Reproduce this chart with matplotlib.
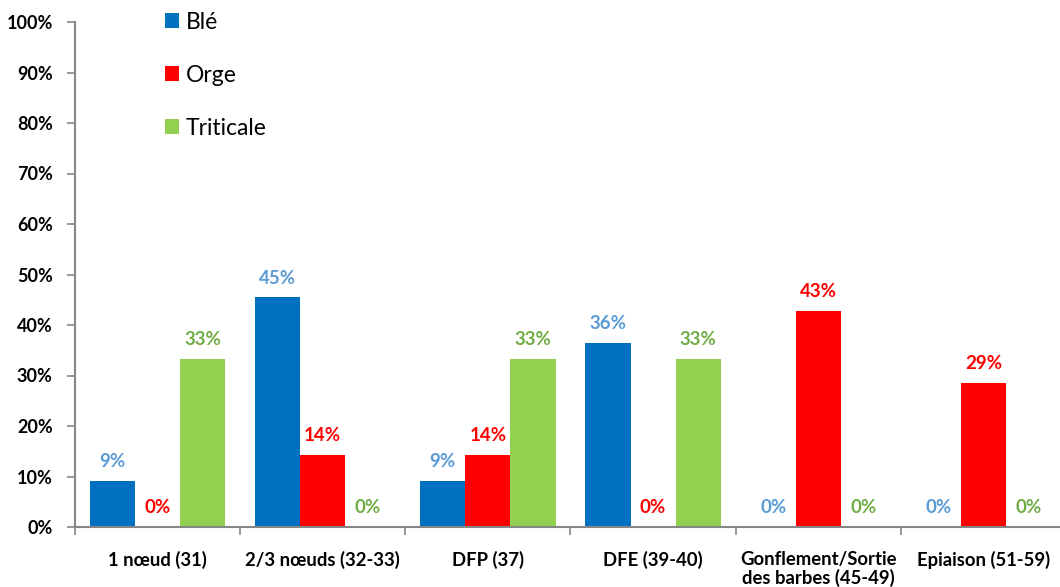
import numpy as np
import matplotlib
matplotlib.use("Agg")
import matplotlib.pyplot as plt
from matplotlib.ticker import MultipleLocator, FixedLocator, PercentFormatter

plt.rcParams['font.family'] = ['Lato', 'DejaVu Sans']

# stades (categories)
stades = ["1 nœud (31)", "2/3 nœuds (32-33)", "DFP (37)", "DFE (39-40)",
          "Gonflement/Sortie\ndes barbes (45-49)", "Epiaison (51-59)"]
# fractions
ble = [9.09, 45.45, 9.09, 36.36, 0, 0]
orge = [0, 14.29, 14.29, 0, 42.86, 28.57]
triticale = [33.33, 0, 33.33, 33.33, 0, 0]

series = [("Blé", ble, "#0070C0", "#5B9BD5"),
          ("Orge", orge, "#FF0000", "#FF0000"),
          ("Triticale", triticale, "#92D050", "#70AD47")]

fig = plt.figure(figsize=(10.6, 5.87), dpi=100)
ax = fig.add_axes([75/1060, 1 - 527/587, (1066 - 75)/1060, (527 - 22)/587])

x = np.arange(len(stades))
w = 0.273
for i, (name, vals, col, lcol) in enumerate(series):
    bars = ax.bar(x + (i - 1)*w, vals, w, color=col, label=name, zorder=2)
    for b, v in zip(bars, vals):
        ax.annotate(f"{v:.0f}%", (b.get_x() + b.get_width()/2, v),
                    xytext=(0, 14), textcoords="offset points",
                    ha="center", va="center", color=lcol,
                    fontsize=13.5, fontweight="bold")

ax.set_ylim(0, 100)
ax.set_xlim(-0.5, len(stades) - 0.5)
ax.yaxis.set_major_locator(MultipleLocator(10))
ax.yaxis.set_major_formatter(PercentFormatter(decimals=0))

ax.set_xticks(x)
ax.set_xticklabels(stades, fontsize=13.3, fontweight="bold", linespacing=1.1)
ax.xaxis.set_minor_locator(FixedLocator(np.arange(-0.5, len(stades), 1)))
ax.tick_params(axis="x", which="major", length=0, pad=17)
ax.tick_params(axis="x", which="minor", length=6, color="#868686", width=1.2)
ax.tick_params(axis="y", length=6, color="#868686", width=1.2, labelsize=13, pad=10)
for lab in ax.get_yticklabels():
    lab.set_fontweight("bold")

for s in ["top", "right"]:
    ax.spines[s].set_visible(False)
for s in ["left", "bottom"]:
    ax.spines[s].set_color("#868686")
    ax.spines[s].set_linewidth(1.5)

ax.legend(loc="upper left", bbox_to_anchor=(144/1060, 1 + 9/587),
          bbox_transform=fig.transFigure, frameon=False, fontsize=16.5,
          handlelength=0.62, handleheight=0.62, handletextpad=0.3,
          labelspacing=1.4)

fig.savefig("out.png", dpi=100)
